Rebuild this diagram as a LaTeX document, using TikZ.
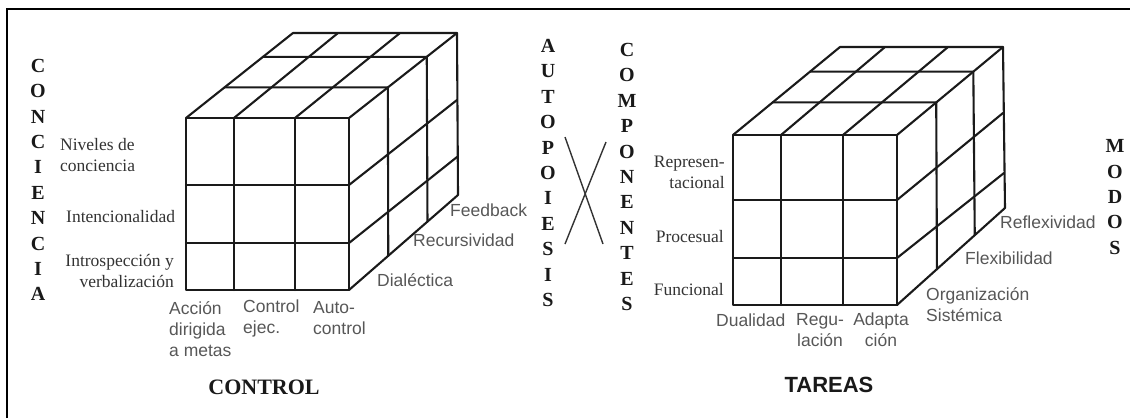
\documentclass[tikz,border=0pt]{standalone}
\usepackage{fontspec}
\setmainfont{Liberation Serif}
\setsansfont{Liberation Sans}
\usetikzlibrary{calc}
\definecolor{linec}{HTML}{1A1A1A}
\definecolor{serifc}{HTML}{333333}
\definecolor{sansc}{HTML}{575757}
\tikzset{
  grid/.style={draw=linec, line width=2.1pt, line cap=round, line join=round},
  frameline/.style={draw=black, line width=2pt},
  crossline/.style={draw=black!80, line width=1.4pt},
  serlab/.style={font=\fontsize{17.5}{21}\selectfont, text=serifc, inner sep=0pt},
  sanlab/.style={font=\sffamily\fontsize{17.5}{21}\selectfont, text=sansc, inner sep=0pt},
  vertlab/.style={font=\bfseries\fontsize{20}{25.4}\selectfont, text=black!90, align=center, inner sep=0pt},
  sertitle/.style={font=\bfseries\fontsize{22}{26}\selectfont, text=black!90, inner sep=0pt},
  santitle/.style={font=\sffamily\bfseries\fontsize{22}{26}\selectfont, text=black!90, inner sep=0pt}
}
\begin{document}
\begin{tikzpicture}[x=1pt,y=-1pt]
\useasboundingbox (0,0) rectangle (1130,418);
% frame
\draw[frameline] (7,418) -- (7,9) -- (1130,9);

% ===== left cube =====
\coordinate (LFTL) at (186,118); \coordinate (LFTR) at (349,118);
\coordinate (LFBR) at (349,290); \coordinate (LFBL) at (186,290);
\coordinate (LBTL) at (293,33);  \coordinate (LBTR) at (457,33);
\coordinate (LBBR) at (458,195);
\draw[grid] (LFTL) rectangle (LFBR);
\draw[grid] (234,118)--(234,290) (295,118)--(295,290) (186,185)--(349,185) (186,243)--(349,243);
\draw[grid] (LFTL)--(LBTL)--(LBTR)--(LBBR)--(LFBR);
\draw[grid] (LFTR)--(LBTR);
\draw[grid] (234,118)--(338,33) (295,118)--(400,33);
\draw[grid] (349,185)--(457,100) (349,243)--(457,157);
\foreach \d in {0.36,0.72}
  \draw[grid] ($(LFTL)!\d!(LBTL)$) -- ($(LFTR)!\d!(LBTR)$) -- ($(LFBR)!\d!(LBBR)$);

% ===== right cube =====
\coordinate (RFTL) at (733,135); \coordinate (RFTR) at (897,135);
\coordinate (RFBR) at (897,305); \coordinate (RFBL) at (733,305);
\coordinate (RBTL) at (840,47);  \coordinate (RBTR) at (1003,47);
\coordinate (RBBR) at (1005,208);
\draw[grid] (RFTL) rectangle (RFBR);
\draw[grid] (781,135)--(781,305) (843,135)--(843,305) (733,200)--(897,200) (733,258)--(897,258);
\draw[grid] (RFTL)--(RBTL)--(RBTR)--(RBBR)--(RFBR);
\draw[grid] (RFTR)--(RBTR);
\draw[grid] (781,135)--(885,47) (843,135)--(948,47);
\draw[grid] (897,200)--(1003,113) (897,258)--(1004,173);
\foreach \d in {0.37,0.72}
  \draw[grid] ($(RFTL)!\d!(RBTL)$) -- ($(RFTR)!\d!(RBTR)$) -- ($(RFBR)!\d!(RBBR)$);

% ===== vertical words =====
\node[vertlab] (conciencia) at (38,180) {C\\O\\N\\C\\I\\E\\N\\C\\I\\A};
\node[vertlab] (autopoiesis) at (548,173) {A\\U\\T\\O\\P\\O\\I\\E\\S\\I\\S};
\node[vertlab] (componentes) at (627,177) {C\\O\\M\\P\\O\\N\\E\\N\\T\\E\\S};
\node[vertlab] (modos) at (1115,197) {M\\O\\D\\O\\S};

% cross
\coordinate (xa1) at (565,137); \coordinate (xa2) at (603,244);
\coordinate (xb1) at (606,142); \coordinate (xb2) at (565,244);
\draw[crossline] (xa1) -- (xa2);
\draw[crossline] (xb1) -- (xb2);

% ===== left labels =====
\node[serlab, anchor=west, align=left] (niveles) at (60,155) {Niveles de\\conciencia};
\node[serlab, anchor=west] (intenc) at (66,217) {Intencionalidad};
\node[serlab, anchor=east, align=right] (intros) at (174,271) {Introspección y\\verbalización};
\node[sanlab, anchor=west, align=left] (accion) at (169,329) {Acción\\dirigida\\a metas};
\node[sanlab, anchor=west, align=left] (controlej) at (243,318) {Control\\ejec.};
\node[sanlab, anchor=west, align=left] (autoc) at (313,318) {Auto-\\control};
\node[sanlab, anchor=west] (feedback) at (450,210) {Feedback};
\node[sanlab, anchor=west] (recurs) at (413,240) {Recursividad};
\node[sanlab, anchor=west] (dialec) at (377,280) {Dialéctica};
\node[sertitle] (control) at (264,387) {CONTROL};

% ===== right labels =====
\node[serlab, anchor=east, align=right] (repres) at (725,172) {Represen-\\tacional};
\node[serlab, anchor=east] (procesual) at (724,237) {Procesual};
\node[serlab, anchor=east] (funcional) at (724,290) {Funcional};
\node[sanlab, anchor=west] (dualidad) at (716,320) {Dualidad};
\node[sanlab, align=center] (regul) at (820,330) {Regu-\\lación};
\node[sanlab, align=center] (adapt) at (881,330) {Adapta\\ción};
\node[sanlab, anchor=west, align=left] (organiz) at (926,305) {Organización\\Sistémica};
\node[sanlab, anchor=west] (flexib) at (965,258) {Flexibilidad};
\node[sanlab, anchor=west] (reflex) at (1000,222) {Reflexividad};
\node[santitle] (tareas) at (829,385) {TAREAS};
\end{tikzpicture}
\end{document}
